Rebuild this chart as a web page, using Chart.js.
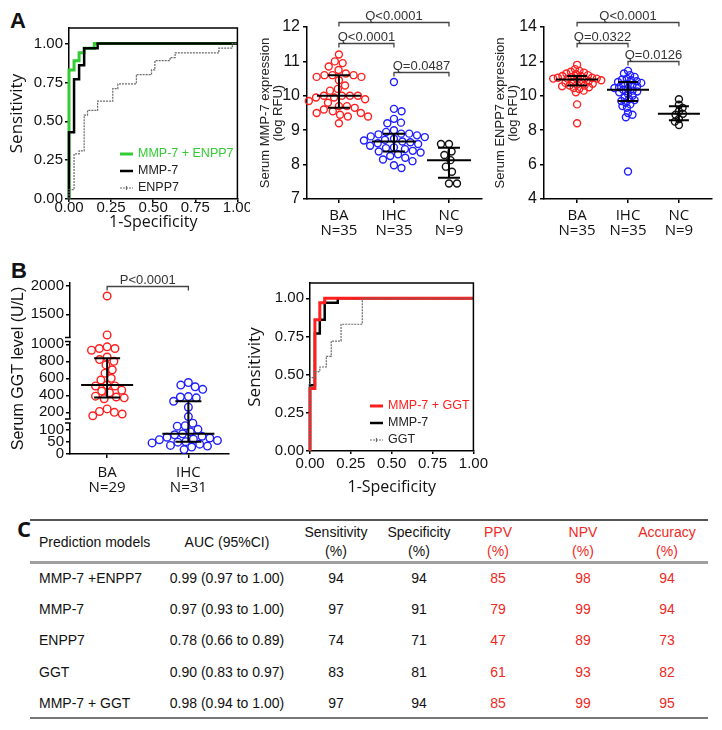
<!DOCTYPE html>
<html>
<head>
<meta charset="utf-8">
<script src="https://cdn.jsdelivr.net/npm/chart.js@4.4.0/dist/chart.umd.min.js"></script>
<style>
body { margin: 0; background: #fff; width: 722px; height: 730px; overflow: hidden; position: relative;
  font-family: 'Liberation Sans', Arial, sans-serif; color: #111; }
canvas { position: absolute; }
.letter { position: absolute; font-weight: bold; font-size: 22px; line-height: 22px; }
.tc { position: absolute; font-size: 14px; line-height: 19px; white-space: nowrap; text-align: center; transform: translate(-50%, -50%); }
.tl { position: absolute; font-size: 14px; line-height: 19px; white-space: nowrap; transform: translate(0, -50%); }
.rule { position: absolute; left: 30px; width: 678px; }
</style>
</head>
<body>
<div class="letter" style="left:10px;top:10px;">A</div>
<div class="letter" style="left:11px;top:260px;">B</div>
<div class="letter" style="left:17px;top:517px;font-family:'Open Sans',sans-serif;">C</div>

<canvas id="rocA" width="250" height="233" style="left:0;top:0;"></canvas>
<canvas id="mmp" width="250" height="240" style="left:240px;top:0;"></canvas>
<canvas id="enpp" width="232" height="240" style="left:490px;top:0;"></canvas>
<canvas id="ggt" width="250" height="250" style="left:0;top:250px;"></canvas>
<canvas id="rocB" width="246" height="240" style="left:244px;top:260px;"></canvas>

<script>
// ---- data ----
var groupsA = ['BA', 'IHC', 'NC'];
var countsA = ['N=35', 'N=35', 'N=9'];
var groupsB = ['BA', 'IHC'];
var countsB = ['N=29', 'N=31'];

// ROC curves, panel A (1-specificity, sensitivity)
var comboA_x = [0, 0, 0.03, 0.03, 0.06, 0.06, 0.09, 0.09, 0.15, 0.15, 1];
var comboA_y = [0, 0.83, 0.83, 0.89, 0.89, 0.94, 0.94, 0.97, 0.97, 1, 1];
var mmp7_x = [0, 0, 0.03, 0.03, 0.06, 0.06, 0.09, 0.09, 0.17, 0.17, 1];
var mmp7_y = [0, 0.43, 0.43, 0.77, 0.77, 0.86, 0.86, 0.97, 0.97, 1, 1];
var enpp7_x = [0, 0, 0.03, 0.03, 0.06, 0.06, 0.09, 0.09, 0.11, 0.11, 0.17, 0.17, 0.26, 0.26, 0.29, 0.29,
  0.4, 0.4, 0.49, 0.49, 0.51, 0.51, 0.6, 0.6, 0.63, 0.63, 0.89, 0.89, 0.97, 0.97, 1];
var enpp7_y = [0, 0.06, 0.06, 0.29, 0.29, 0.31, 0.31, 0.54, 0.54, 0.57, 0.57, 0.63, 0.63, 0.71, 0.71, 0.74,
  0.74, 0.8, 0.8, 0.83, 0.83, 0.89, 0.89, 0.91, 0.91, 0.94, 0.94, 0.97, 0.97, 1, 1];
// ROC curves, panel B
var comboB_x = [0, 0, 0.03, 0.03, 0.06, 0.06, 0.09, 0.09, 1];
var comboB_y = [0, 0.41, 0.41, 0.86, 0.86, 0.97, 0.97, 1, 1];
var ggt_x = [0, 0, 0.03, 0.03, 0.06, 0.06, 0.1, 0.1, 0.13, 0.13, 0.19, 0.19, 0.32, 0.32, 1];
var ggt_y = [0, 0.48, 0.48, 0.52, 0.52, 0.55, 0.55, 0.62, 0.62, 0.72, 0.72, 0.83, 0.83, 1, 1];
var rocTicks = [0, 0.25, 0.5, 0.75, 1];
var legendA = ['MMP-7 + ENPP7', 'MMP-7', 'ENPP7'];
var legendB = ['MMP-7 + GGT', 'MMP-7', 'GGT'];

// serum MMP-7 (log RFU)
var mmpBA = [11.2, 10.95, 11.0, 10.85, 10.75, 10.6, 10.6, 10.55, 10.6, 10.65, 10.55, 10.45, 10.3, 10.2, 10.15,
  10.0, 10.0, 10.0, 9.95, 10.0, 9.95, 9.9, 9.85, 9.8, 9.7, 9.7, 9.65, 9.6, 9.55, 9.5, 9.45, 9.5, 9.4, 9.4, 9.2];
var mmpIHC = [10.4, 9.62, 9.55, 9.33, 9.22, 9.2, 9.0, 8.95, 8.9, 8.9, 8.88, 8.85, 8.82, 8.8, 8.75, 8.72, 8.7,
  8.67, 8.65, 8.62, 8.6, 8.55, 8.5, 8.48, 8.45, 8.4, 8.38, 8.35, 8.3, 8.25, 8.2, 8.15, 8.1, 7.98, 7.9];
var mmpNC = [8.6, 8.6, 8.38, 8.28, 8.13, 7.94, 7.79, 7.45, 7.45];
var mmpTicks = [7, 8, 9, 10, 11, 12];
var mmpBrackets = [[0, 2, 12.15, 'Q<0.0001'], [0, 1, 11.53, 'Q<0.0001'], [1, 2, 10.69, 'Q=0.0487']];

// serum ENPP7 (log RFU)
var enpBA = [11.8, 11.55, 11.45, 11.4, 11.35, 11.3, 11.25, 11.2, 11.15, 11.15, 11.1, 11.05, 11.05, 11.0, 11.0,
  11.0, 11.0, 10.95, 10.9, 10.85, 10.8, 10.8, 10.75, 10.7, 10.65, 10.6, 10.6, 10.55, 10.5, 10.45, 10.4, 10.3,
  10.2, 9.5, 8.4];
var enpIHC = [11.45, 11.3, 11.2, 11.1, 11.0, 10.95, 10.9, 10.85, 10.8, 10.75, 10.7, 10.65, 10.6, 10.55, 10.5,
  10.45, 10.4, 10.35, 10.3, 10.25, 10.2, 10.1, 10.0, 9.9, 9.8, 9.75, 9.7, 9.6, 9.5, 9.4, 9.3, 9.0, 8.9, 8.75, 5.6];
var enpNC = [9.8, 9.48, 9.3, 9.1, 8.95, 8.9, 8.65, 8.5, 8.3];
var enpTicks = [4, 6, 8, 10, 12, 14];
var enpBrackets = [[0, 2, 14.27, 'Q<0.0001'], [0, 1, 13.07, 'Q=0.0322'], [1, 2, 12.04, 'Q=0.0126']];

// serum GGT (U/L), broken axis
var ggtBA = [1820, 1140, 970, 950, 930, 950, 850, 820, 800, 757, 700, 660, 600, 580, 520, 510, 510, 450, 460,
  430, 390, 370, 360, 380, 240, 200, 160, 180, 210];
var ggtIHC = [550, 520, 500, 470, 385, 380, 370, 330, 260, 150, 125, 115, 113, 100, 90, 82, 78, 72, 68, 65,
  60, 58, 55, 50, 48, 45, 40, 35, 32, 28, 18];
var ggtTopRange = [1061, 2047], ggtTopTicks = [1500, 2000];
var ggtMidRange = [98, 1056], ggtMidTicks = [200, 400, 600, 800, 1000];
var ggtBotRange = [0, 134], ggtBotTicks = [0, 50, 100];
var ggtBrackets = [[0, 1, 1995, 'P<0.0001']];

// table C
var tblHeads = ['AUC (95%CI)', 'Sensitivity\n(%)', 'Specificity\n(%)', 'PPV\n(%)', 'NPV\n(%)', 'Accuracy\n(%)'];
var models = ['MMP-7 +ENPP7', 'MMP-7', 'ENPP7', 'GGT', 'MMP-7 + GGT'];
var aucCI = ['0.99 (0.97 to 1.00)', '0.97 (0.93 to 1.00)', '0.78 (0.66 to 0.89)', '0.90 (0.83 to 0.97)', '0.98 (0.94 to 1.00)'];
var sensV = [94, 97, 74, 83, 97];
var specV = [94, 91, 71, 81, 94];
var ppvV = [85, 79, 47, 61, 85];
var npvV = [98, 99, 89, 93, 99];
var accV = [94, 94, 73, 82, 95];

// ---- styles ----
var FONT = "'Liberation Sans', Arial, sans-serif";
var HUM = "'Open Sans', sans-serif";
var RED = '#ff1f1f', BLUE = '#1f1fff', GREEN = '#33cc33', GRAY = '#6a6a6a';
Chart.defaults.font.family = FONT;
Chart.defaults.color = '#111';
Chart.defaults.animation = false;

var tickGrid = { drawOnChartArea: false, drawTicks: true, tickLength: 4, color: '#000', lineWidth: 1.5 };
var axisBorder = { display: true, color: '#000', width: 1.5 };

function fixedTicks(list) {
  return function (s) { s.ticks = list.map(function (v) { return { value: v }; }); };
}
function plain(v) { return String(v); }
function quant(arr, p) {
  var s = arr.slice().sort(function (a, b) { return a - b; });
  var pos = (s.length + 1) * p, lo = Math.floor(pos), f = pos - lo;
  if (lo < 1) return s[0];
  if (lo >= s.length) return s[s.length - 1];
  return s[lo - 1] + f * (s[lo] - s[lo - 1]);
}

// beeswarm offsets in pixels
function swarm(pys, diam) {
  var order = pys.map(function (v, i) { return i; }).sort(function (a, b) { return pys[a] - pys[b]; });
  var placed = [], out = [];
  order.forEach(function (i, n) {
    var y = pys[i], cands = [0];
    placed.forEach(function (p) {
      var dy = Math.abs(p.y - y);
      if (dy < diam) { var dx = Math.sqrt(diam * diam - dy * dy); cands.push(p.x + dx, p.x - dx); }
    });
    var sign = n % 2 ? 1 : -1;
    cands.sort(function (a, b) { return Math.abs(a) - Math.abs(b) || (a - b) * sign; });
    for (var c = 0; c < cands.length; c++) {
      var x = cands[c];
      var ok = placed.every(function (p) { return (p.x - x) * (p.x - x) + (p.y - y) * (p.y - y) >= diam * diam - 0.01; });
      if (ok) { out[i] = x; placed.push({ x: x, y: y }); break; }
    }
  });
  return out;
}
function spreadPoints(chart, diam) {
  var xs = chart.scales.x;
  var unit = xs.getPixelForValue(1) - xs.getPixelForValue(0);
  var groups = {};
  chart.data.datasets.forEach(function (ds, di) {
    var ys = chart.scales[ds.yAxisID || 'y'];
    groups[ds.grp] = groups[ds.grp] || [];
    ds.vals.forEach(function (v, k) { groups[ds.grp].push({ di: di, k: k, py: ys.getPixelForValue(v) }); });
  });
  Object.keys(groups).forEach(function (g) {
    var pts = groups[g];
    var off = swarm(pts.map(function (p) { return p.py; }), diam);
    pts.forEach(function (p, j) { chart.data.datasets[p.di].data[p.k].x = +g + off[j] / unit; });
  });
  chart.update('none');
}

function dotSet(vals, grp, color, axis, r) {
  return {
    vals: vals, grp: grp, yAxisID: axis || 'y',
    data: vals.map(function (v) { return { x: grp, y: v }; }),
    pointRadius: r, pointBorderWidth: 1.4, pointBorderColor: color, pointBackgroundColor: 'rgba(0,0,0,0)',
    pointHoverRadius: r, clip: false
  };
}

function statPlugin(stats, yPix) {
  return { id: 'stats', afterDatasetsDraw: function (chart) {
    var ctx = chart.ctx, xs = chart.scales.x;
    ctx.save(); ctx.strokeStyle = '#000'; ctx.lineWidth = 2;
    stats.forEach(function (s) {
      var cx = xs.getPixelForValue(s.grp);
      var med = yPix(chart, quant(s.vals, 0.5)), lo = yPix(chart, quant(s.vals, 0.25)), hi = yPix(chart, quant(s.vals, 0.75));
      ctx.beginPath();
      ctx.moveTo(cx - s.half, med); ctx.lineTo(cx + s.half, med);
      ctx.moveTo(cx - s.cap, lo); ctx.lineTo(cx + s.cap, lo);
      ctx.moveTo(cx - s.cap, hi); ctx.lineTo(cx + s.cap, hi);
      ctx.moveTo(cx, lo); ctx.lineTo(cx, hi);
      ctx.stroke();
    });
    ctx.restore();
  } };
}

function bracketPlugin(list, axisId) {
  return { id: 'brackets', afterDraw: function (chart) {
    var ctx = chart.ctx, xs = chart.scales.x, ys = chart.scales[axisId];
    ctx.save(); ctx.strokeStyle = '#444'; ctx.lineWidth = 1.3; ctx.fillStyle = '#333';
    ctx.font = '13px ' + FONT; ctx.textAlign = 'center'; ctx.textBaseline = 'alphabetic';
    list.forEach(function (b) {
      var x1 = xs.getPixelForValue(b[0]), x2 = xs.getPixelForValue(b[1]);
      var y = Math.round(ys.getPixelForValue(b[2])) + 0.5;
      ctx.beginPath(); ctx.moveTo(x1, y + 4); ctx.lineTo(x1, y); ctx.lineTo(x2, y); ctx.lineTo(x2, y + 4); ctx.stroke();
      ctx.fillText(b[3], (x1 + x2) / 2, y - 3);
    });
    ctx.restore();
  } };
}

function catAxis(range, labels, counts, height, pad) {
  return {
    type: 'linear', min: range[0], max: range[1],
    afterBuildTicks: fixedTicks(labels.map(function (l, i) { return i; })),
    afterFit: function (s) { s.height = height; },
    ticks: { callback: function (v, i) { return [labels[i], counts[i]]; }, font: { family: HUM, size: 15, lineHeight: 1 },
      padding: pad, color: '#111', maxRotation: 0, autoSkip: false },
    grid: tickGrid, border: axisBorder
  };
}

function valAxis(range, ticks, width, title, extra) {
  var ax = {
    type: 'linear', min: range[0], max: range[1],
    afterBuildTicks: fixedTicks(ticks),
    afterFit: function (s) { s.width = width; },
    ticks: { callback: plain, font: { size: 16 }, padding: 3, color: '#111', autoSkip: false },
    grid: tickGrid, border: axisBorder
  };
  if (title) ax.title = { display: true, text: title, font: { size: 13, lineHeight: 1 }, color: '#222', padding: { top: 2.5, bottom: 0 } };
  for (var k in extra) ax[k] = extra[k];
  return ax;
}

// ---- dot plots A ----
function dotChart(id, sets, xRange, yRange, yTicks, yWidth, title, padding, brackets, half, cap, diam) {
  var chart = new Chart(document.getElementById(id), {
    type: 'scatter',
    data: { datasets: sets },
    options: {
      responsive: false, animation: false,
      layout: { padding: padding },
      scales: {
        x: catAxis(xRange, groupsA, countsA, 41, 5.5),
        y: valAxis(yRange, yTicks, yWidth, title)
      },
      plugins: { legend: { display: false }, tooltip: { enabled: false } }
    },
    plugins: [
      statPlugin(sets.map(function (s) { return { grp: s.grp, vals: s.vals, half: half, cap: cap }; }),
        function (c, v) { return c.scales.y.getPixelForValue(v); }),
      bracketPlugin(brackets, 'y')
    ]
  });
  spreadPoints(chart, diam);
  return chart;
}

dotChart('mmp', [dotSet(mmpBA, 0, RED, 'y', 3.5), dotSet(mmpIHC, 1, BLUE, 'y', 3.5), dotSet(mmpNC, 2, '#111', 'y', 3.5)],
  [-0.58, 2.6], [7, 12], mmpTicks, 51, ['Serum MMP-7 expression', '(log RFU)'],
  { left: 16, top: 27, right: 8, bottom: 0 }, mmpBrackets, 22, 11, 8);

dotChart('enpp', [dotSet(enpBA, 0, RED, 'y', 3.5), dotSet(enpIHC, 1, BLUE, 'y', 3.5), dotSet(enpNC, 2, '#111', 'y', 3.5)],
  [-0.65, 2.65], [4, 14], enpTicks, 53, ['Serum ENPP7 expression', '(log RFU)'],
  { left: 1, top: 27, right: 10, bottom: 0 }, enpBrackets, 21, 10, 4.8);

// ---- GGT dot plot with broken axis ----
function segOf(v) { return v > 1058 ? 'yTop' : (v >= 128 ? 'yMid' : 'yBot'); }
function ggtSets(vals, grp, color) {
  return ['yTop', 'yMid', 'yBot'].map(function (id) {
    return dotSet(vals.filter(function (v) { return segOf(v) === id; }), grp, color, id, 3.8);
  });
}
function segAxis(range, ticks, weight) {
  return valAxis(range, ticks, 70, null, { position: 'left', stack: 'ggt', stackWeight: weight, offset: false,
    ticks: { callback: plain, font: { size: 15 }, padding: 2, color: '#111', autoSkip: false } });
}
var ggtSetsAll = ggtSets(ggtBA, 0, RED).concat(ggtSets(ggtIHC, 1, BLUE));
var ggtChart = new Chart(document.getElementById('ggt'), {
  type: 'scatter',
  data: { datasets: ggtSetsAll },
  options: {
    responsive: false, animation: false,
    layout: { padding: { left: 0, top: 33, right: 21, bottom: 0 } },
    scales: {
      x: catAxis([-0.457, 1.5], groupsB, countsB, 46, 7.5),
      yBot: segAxis(ggtBotRange, ggtBotTicks, 33),
      yMid: segAxis(ggtMidRange, ggtMidTicks, 81.5),
      yTop: segAxis(ggtTopRange, ggtTopTicks, 56.5)
    },
    plugins: { legend: { display: false }, tooltip: { enabled: false } }
  },
  plugins: [
    statPlugin([{ grp: 0, vals: ggtBA, half: 26, cap: 13 }, { grp: 1, vals: ggtIHC, half: 26, cap: 13 }],
      function (c, v) { return c.scales[segOf(v)].getPixelForValue(v); }),
    bracketPlugin(ggtBrackets, 'yTop'),
    { id: 'breaks', afterDraw: function (chart) {
      var ctx = chart.ctx, x = chart.chartArea.left;
      ctx.save(); ctx.strokeStyle = '#000'; ctx.lineWidth = 1.5;
      [chart.scales.yTop.bottom, chart.scales.yMid.bottom].forEach(function (yb) {
        ctx.fillStyle = '#fff'; ctx.fillRect(x - 2, yb - 2, 4, 4);
        ctx.beginPath();
        ctx.moveTo(x - 5, yb - 2); ctx.lineTo(x + 0.7, yb - 2);
        ctx.moveTo(x - 5, yb + 2); ctx.lineTo(x + 0.7, yb + 2);
        ctx.stroke();
      });
      ctx.restore();
    } },
    { id: 'ytitle', afterDraw: function (chart) {
      var ctx = chart.ctx, a = chart.chartArea;
      ctx.save(); ctx.translate(19, (a.top + a.bottom) / 2); ctx.rotate(-Math.PI / 2);
      ctx.textAlign = 'center'; ctx.textBaseline = 'middle'; ctx.font = '16px ' + FONT; ctx.fillStyle = '#111';
      ctx.fillText('Serum GGT level (U/L)', 0, 0);
      ctx.restore();
    } }
  ]
});
spreadPoints(ggtChart, 8);

// ---- ROC charts ----
function rocLegendPlugin(labels, sets, dx) {
  return { id: 'rocLegend', afterDraw: function (chart) {
    var ctx = chart.ctx, a = chart.chartArea;
    ctx.save(); ctx.font = '12.5px ' + FONT; ctx.textBaseline = 'middle';
    labels.forEach(function (lab, i) {
      var s = sets[i], y = a.bottom - 45 + i * 17, x = a.left + dx;
      ctx.strokeStyle = s.color; ctx.lineWidth = s.width; ctx.setLineDash(s.dash || []);
      ctx.beginPath(); ctx.moveTo(x, y); ctx.lineTo(x + 13, y); ctx.stroke();
      if (s.dash) { ctx.setLineDash([]); ctx.beginPath(); ctx.moveTo(x + 6.5, y - 2); ctx.lineTo(x + 6.5, y + 2); ctx.stroke(); }
      ctx.setLineDash([]);
      ctx.fillStyle = i === 0 ? s.color : '#222';
      ctx.fillText(lab, x + 18, y);
    });
    ctx.restore();
  } };
}
var framePlugin = { id: 'frame', afterDatasetsDraw: function (chart) {
  var ctx = chart.ctx, a = chart.chartArea;
  ctx.save(); ctx.strokeStyle = '#000'; ctx.lineWidth = 1.5;
  ctx.beginPath(); ctx.moveTo(a.left, a.top); ctx.lineTo(a.right, a.top); ctx.lineTo(a.right, a.bottom); ctx.stroke();
  ctx.restore();
} };

function rocChart(id, sets, labels, padding, yWidth, xHeight, dx, xTickPad, xTitlePad) {
  return new Chart(document.getElementById(id), {
    type: 'line',
    data: { datasets: sets.map(function (s) {
      return { data: s.x.map(function (v, i) { return { x: v, y: s.y[i] }; }),
        borderColor: s.color, borderWidth: s.width, borderDash: s.dash || [], pointRadius: 0,
        fill: false, tension: 0, order: s.order, clip: false };
    }) },
    options: {
      responsive: false, animation: false,
      layout: { padding: padding },
      scales: {
        x: { type: 'linear', min: 0, max: 1, afterBuildTicks: fixedTicks(rocTicks),
          afterFit: function (s) { s.height = xHeight; },
          ticks: { callback: function (v) { return v.toFixed(2); }, font: { size: 15, lineHeight: 1 }, padding: xTickPad,
            color: '#111', maxRotation: 0, autoSkip: false },
          grid: { drawOnChartArea: false, drawTicks: true, tickLength: 3, color: '#000', lineWidth: 1.5 }, border: axisBorder,
          title: { display: true, text: '1-Specificity', font: { family: HUM, size: 16 }, color: '#111', padding: { top: 0, bottom: xTitlePad } } },
        y: { type: 'linear', min: 0, max: 1.1, afterBuildTicks: fixedTicks(rocTicks),
          afterFit: function (s) { s.width = yWidth; },
          ticks: { callback: function (v) { return v.toFixed(2); }, font: { size: 15 }, padding: 2, color: '#111', autoSkip: false },
          grid: tickGrid, border: axisBorder,
          title: { display: true, text: 'Sensitivity', font: { family: HUM, size: 17 }, color: '#111', padding: { top: 1, bottom: 0 } } }
      },
      plugins: { legend: { display: false }, tooltip: { enabled: false } }
    },
    plugins: [framePlugin, rocLegendPlugin(labels, sets, dx)]
  });
}

var setsA = [
  { x: comboA_x, y: comboA_y, color: GREEN, width: 3, order: 2 },
  { x: mmp7_x, y: mmp7_y, color: '#000', width: 2.5, order: 1 },
  { x: enpp7_x, y: enpp7_y, color: GRAY, width: 1.2, dash: [2, 1], order: 0 }
];
rocChart('rocA', setsA, legendA, { left: 6, top: 28, right: 9, bottom: 0 }, 63, 34, 51, -2, 1.4);

var setsB = [
  { x: comboB_x, y: comboB_y, color: RED, width: 3, order: 1 },
  { x: mmp7_x, y: mmp7_y, color: '#000', width: 2.5, order: 2 },
  { x: ggt_x, y: ggt_y, color: GRAY, width: 1.2, dash: [2, 1], order: 0 }
];
rocChart('rocB', setsB, legendB, { left: 0, top: 23, right: 12, bottom: 0 }, 66, 49, 60, 2, 2.5);

// ---- table C ----
var colX = [227, 336, 419, 498, 583, 667];
var rowY = [578, 609, 640, 672, 703];
var TRED = '#ee2a24';
function put(cls, text, x, y, color) {
  var d = document.createElement('div');
  d.className = cls;
  d.innerHTML = text.replace('\n', '<br>');
  d.style.left = x + 'px'; d.style.top = y + 'px';
  if (color) d.style.color = color;
  document.body.appendChild(d);
}
function rule(y, h, color) {
  var d = document.createElement('div');
  d.className = 'rule';
  d.style.top = y + 'px'; d.style.height = h + 'px'; d.style.background = color;
  document.body.appendChild(d);
}
rule(519, 1.5, '#555');
rule(561, 3, '#a0a0a0');
rule(717, 1.5, '#777');
put('tl', 'Prediction models', 39, 542);
tblHeads.forEach(function (h, i) { put('tc', h, colX[i], 542, i >= 3 ? TRED : null); });
models.forEach(function (m, r) {
  var y = rowY[r];
  put('tl', m, 39, y);
  put('tc', aucCI[r], colX[0], y);
  put('tc', String(sensV[r]), colX[1], y);
  put('tc', String(specV[r]), colX[2], y);
  put('tc', String(ppvV[r]), colX[3], y, TRED);
  put('tc', String(npvV[r]), colX[4], y, TRED);
  put('tc', String(accV[r]), colX[5], y, TRED);
});
</script>
</body>
</html>
